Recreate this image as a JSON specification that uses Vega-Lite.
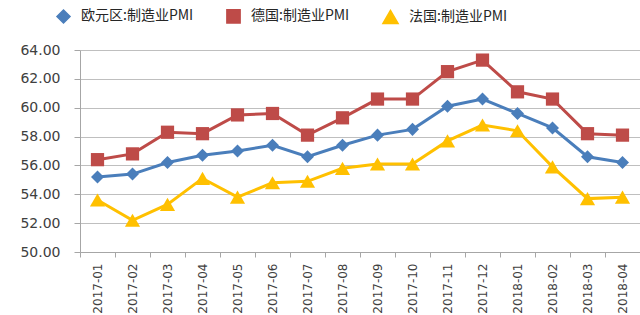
{
  "$schema": "https://vega.github.io/schema/vega-lite/v6.json",
  "autosize": {"type": "none"},
  "width": 560,
  "height": 202,
  "padding": {"left": 80, "top": 50, "right": 0, "bottom": 63},
  "background": "white",
  "config": {"view": {"stroke": null}},
  "data": {"values": [
    {"month": "2017-01", "series": "欧元区:制造业PMI", "value": 55.2},
    {"month": "2017-02", "series": "欧元区:制造业PMI", "value": 55.4},
    {"month": "2017-03", "series": "欧元区:制造业PMI", "value": 56.2},
    {"month": "2017-04", "series": "欧元区:制造业PMI", "value": 56.7},
    {"month": "2017-05", "series": "欧元区:制造业PMI", "value": 57.0},
    {"month": "2017-06", "series": "欧元区:制造业PMI", "value": 57.4},
    {"month": "2017-07", "series": "欧元区:制造业PMI", "value": 56.6},
    {"month": "2017-08", "series": "欧元区:制造业PMI", "value": 57.4},
    {"month": "2017-09", "series": "欧元区:制造业PMI", "value": 58.1},
    {"month": "2017-10", "series": "欧元区:制造业PMI", "value": 58.5},
    {"month": "2017-11", "series": "欧元区:制造业PMI", "value": 60.1},
    {"month": "2017-12", "series": "欧元区:制造业PMI", "value": 60.6},
    {"month": "2018-01", "series": "欧元区:制造业PMI", "value": 59.6},
    {"month": "2018-02", "series": "欧元区:制造业PMI", "value": 58.6},
    {"month": "2018-03", "series": "欧元区:制造业PMI", "value": 56.6},
    {"month": "2018-04", "series": "欧元区:制造业PMI", "value": 56.2},
    {"month": "2017-01", "series": "德国:制造业PMI", "value": 56.4},
    {"month": "2017-02", "series": "德国:制造业PMI", "value": 56.8},
    {"month": "2017-03", "series": "德国:制造业PMI", "value": 58.3},
    {"month": "2017-04", "series": "德国:制造业PMI", "value": 58.2},
    {"month": "2017-05", "series": "德国:制造业PMI", "value": 59.5},
    {"month": "2017-06", "series": "德国:制造业PMI", "value": 59.6},
    {"month": "2017-07", "series": "德国:制造业PMI", "value": 58.1},
    {"month": "2017-08", "series": "德国:制造业PMI", "value": 59.3},
    {"month": "2017-09", "series": "德国:制造业PMI", "value": 60.6},
    {"month": "2017-10", "series": "德国:制造业PMI", "value": 60.6},
    {"month": "2017-11", "series": "德国:制造业PMI", "value": 62.5},
    {"month": "2017-12", "series": "德国:制造业PMI", "value": 63.3},
    {"month": "2018-01", "series": "德国:制造业PMI", "value": 61.1},
    {"month": "2018-02", "series": "德国:制造业PMI", "value": 60.6},
    {"month": "2018-03", "series": "德国:制造业PMI", "value": 58.2},
    {"month": "2018-04", "series": "德国:制造业PMI", "value": 58.1},
    {"month": "2017-01", "series": "法国:制造业PMI", "value": 53.6},
    {"month": "2017-02", "series": "法国:制造业PMI", "value": 52.2},
    {"month": "2017-03", "series": "法国:制造业PMI", "value": 53.3},
    {"month": "2017-04", "series": "法国:制造业PMI", "value": 55.1},
    {"month": "2017-05", "series": "法国:制造业PMI", "value": 53.8},
    {"month": "2017-06", "series": "法国:制造业PMI", "value": 54.8},
    {"month": "2017-07", "series": "法国:制造业PMI", "value": 54.9},
    {"month": "2017-08", "series": "法国:制造业PMI", "value": 55.8},
    {"month": "2017-09", "series": "法国:制造业PMI", "value": 56.1},
    {"month": "2017-10", "series": "法国:制造业PMI", "value": 56.1},
    {"month": "2017-11", "series": "法国:制造业PMI", "value": 57.7},
    {"month": "2017-12", "series": "法国:制造业PMI", "value": 58.8},
    {"month": "2018-01", "series": "法国:制造业PMI", "value": 58.4},
    {"month": "2018-02", "series": "法国:制造业PMI", "value": 55.9},
    {"month": "2018-03", "series": "法国:制造业PMI", "value": 53.7},
    {"month": "2018-04", "series": "法国:制造业PMI", "value": 53.8}
  ]},
  "encoding": {
    "x": {
      "field": "month", "type": "ordinal", "sort": null,
      "scale": {"type": "band", "paddingInner": 0, "paddingOuter": 0},
      "axis": {
        "title": null, "tickBand": "extent", "labelAngle": 270, "labelAlign": "right", "labelBaseline": "middle",
        "labelFont": "DejaVu Sans", "labelFontSize": 12, "labelColor": "#404040",
        "domainColor": "#a6a6a6", "tickColor": "#a6a6a6", "tickSize": 5, "labelPadding": 6, "grid": false
      }
    },
    "y": {
      "field": "value", "type": "quantitative",
      "scale": {"domain": [50, 64], "nice": false, "zero": false},
      "axis": {
        "title": null, "values": [50, 52, 54, 56, 58, 60, 62, 64], "format": ".2f",
        "labelFont": "DejaVu Sans", "labelFontSize": 14, "labelColor": "#404040",
        "domainColor": "#a6a6a6", "tickColor": "#a6a6a6", "tickSize": 6, "labelPadding": 14,
        "grid": true, "gridColor": "#bfbfbf", "gridWidth": 1
      }
    },
    "color": {
      "field": "series", "type": "nominal",
      "scale": {"domain": ["欧元区:制造业PMI", "德国:制造业PMI", "法国:制造业PMI"], "range": ["#4a7ebb", "#be4b48", "#ffc000"]},
      "legend": {
        "title": null, "orient": "none", "direction": "horizontal", "legendX": -24, "legendY": -42,
        "labelFont": "Noto Sans CJK SC", "labelFontSize": 14, "labelColor": "#262626",
        "symbolSize": 100, "labelOffset": 10, "columnPadding": 29, "padding": 0, "symbolOpacity": 1
      }
    }
  },
  "layer": [
    {"mark": {"type": "line", "strokeWidth": 3}},
    {
      "mark": {"type": "point", "filled": true, "opacity": 1},
      "encoding": {
        "shape": {
          "field": "series", "type": "nominal",
          "scale": {"domain": ["欧元区:制造业PMI", "德国:制造业PMI", "法国:制造业PMI"], "range": ["diamond", "square", "triangle-up"]},
          "legend": null
        },
        "size": {
          "field": "series", "type": "nominal",
          "scale": {"type": "ordinal", "domain": ["欧元区:制造业PMI", "德国:制造业PMI", "法国:制造业PMI"], "range": [170, 175, 230]},
          "legend": null
        }
      }
    }
  ]
}
